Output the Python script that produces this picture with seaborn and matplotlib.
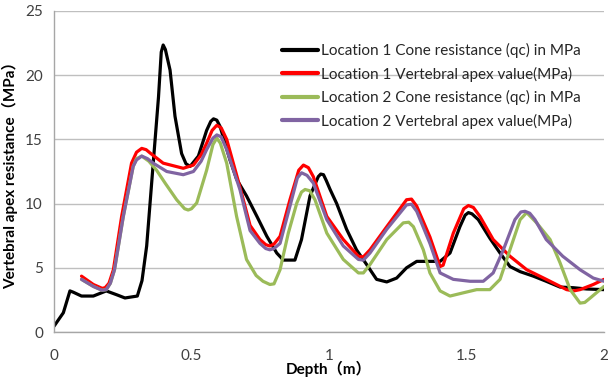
import numpy as np
import pandas as pd
import matplotlib
matplotlib.use("Agg")
import matplotlib.pyplot as plt
import seaborn as sns

# ---- data ----
d_black = [0.0, 0.034, 0.058, 0.07, 0.10, 0.143, 0.19, 0.228, 0.258, 0.303, 0.32, 0.337, 0.361, 0.38,
           0.39, 0.397, 0.405, 0.422, 0.44, 0.464, 0.48, 0.495, 0.525, 0.555, 0.57, 0.58, 0.592, 0.604,
           0.64, 0.664, 0.70, 0.738, 0.774, 0.81, 0.834, 0.876, 0.90, 0.931, 0.961, 0.97, 0.98,
           0.99, 1.004, 1.028, 1.064, 1.10, 1.137, 1.173, 1.21, 1.246, 1.282, 1.319, 1.367, 1.404,
           1.44, 1.476, 1.495, 1.507, 1.52, 1.543, 1.585, 1.622, 1.658, 1.695, 1.743, 1.79, 1.84,
           1.888, 1.937, 2.0]
v_black = [0.45, 1.5, 3.2, 3.1, 2.8, 2.8, 3.2, 2.9, 2.65, 2.8, 4.0, 6.7, 13.2, 18.3,
           21.8, 22.35, 22.0, 20.4, 16.8, 13.9, 13.1, 12.9, 13.7, 15.7, 16.4, 16.6, 16.5, 16.0,
           13.4, 11.9, 10.6, 9.0, 7.45, 6.15, 5.6, 5.6, 7.2, 10.6, 12.1, 12.3, 12.25,
           11.8, 11.1, 10.0, 8.0, 6.4, 5.25, 4.1, 3.9, 4.2, 5.0, 5.5, 5.5, 5.5,
           6.15, 8.2, 9.1, 9.3, 9.2, 8.75, 7.3, 6.15, 5.1, 4.7, 4.35, 3.95, 3.5,
           3.45, 3.35, 3.3]

d_red = [0.10, 0.143, 0.175, 0.186, 0.20, 0.216, 0.246, 0.282, 0.30, 0.319, 0.335, 0.349, 0.397, 0.47,
         0.507, 0.535, 0.555, 0.575, 0.592, 0.608, 0.628, 0.676, 0.713, 0.749, 0.77, 0.785, 0.80,
         0.822, 0.858, 0.89, 0.907, 0.925, 0.943, 0.992, 1.052, 1.107, 1.125, 1.149, 1.21, 1.282,
         1.30, 1.319, 1.367, 1.404, 1.415, 1.452, 1.49, 1.507, 1.525, 1.549, 1.597, 1.658, 1.719,
         1.79, 1.864, 1.89, 1.913, 1.961, 2.0]
v_red = [4.35, 3.7, 3.4, 3.45, 3.8, 4.85, 9.0, 13.15, 14.0, 14.3, 14.2, 13.95, 13.15, 12.75,
         13.0, 13.8, 14.7, 15.7, 16.1, 15.9, 15.0, 11.3, 8.3, 7.2, 6.8, 6.7, 6.85,
         7.45, 10.3, 12.6, 13.0, 12.8, 12.1, 9.0, 7.2, 5.9, 5.85, 6.4, 8.2, 10.3,
         10.35, 9.8, 7.4, 5.1, 5.2, 7.7, 9.6, 9.85, 9.7, 9.0, 7.2, 5.9, 4.85,
         4.1, 3.3, 3.2, 3.3, 3.7, 4.1]

d_green = [0.10, 0.143, 0.175, 0.19, 0.205, 0.22, 0.252, 0.288, 0.30, 0.319, 0.345, 0.373, 0.404, 0.446,
           0.475, 0.488, 0.50, 0.519, 0.555, 0.578, 0.592, 0.605, 0.628, 0.664, 0.70, 0.735, 0.76,
           0.785, 0.80, 0.822, 0.852, 0.883, 0.90, 0.913, 0.93, 0.949, 0.992, 1.052, 1.107, 1.125,
           1.149, 1.21, 1.27, 1.29, 1.307, 1.343, 1.367, 1.404, 1.44, 1.488, 1.537, 1.585,
           1.622, 1.658, 1.695, 1.719, 1.755, 1.804, 1.84, 1.877, 1.913, 1.93, 1.95, 2.0]
v_green = [4.1, 3.55, 3.25, 3.3, 3.8, 4.85, 9.0, 12.9, 13.5, 13.7, 13.3, 12.6, 11.6, 10.3,
           9.6, 9.5, 9.6, 10.05, 12.6, 14.6, 15.1, 14.7, 13.15, 9.0, 5.65, 4.4, 3.95,
           3.7, 3.75, 4.85, 7.7, 10.05, 10.9, 11.1, 11.0, 10.3, 7.7, 5.65, 4.6, 4.6,
           5.25, 7.2, 8.5, 8.55, 8.2, 6.4, 4.6, 3.2, 2.8, 3.05, 3.3, 3.3,
           4.1, 6.4, 8.75, 9.3, 8.5, 7.2, 5.4, 3.3, 2.25, 2.3, 2.65, 3.55]

d_purple = [0.10, 0.143, 0.175, 0.19, 0.205, 0.22, 0.252, 0.288, 0.30, 0.319, 0.34, 0.361, 0.41, 0.47,
            0.507, 0.535, 0.555, 0.578, 0.592, 0.608, 0.628, 0.676, 0.713, 0.749, 0.77, 0.785, 0.80,
            0.822, 0.858, 0.885, 0.90, 0.92, 0.943, 0.992, 1.052, 1.107, 1.125, 1.149, 1.21, 1.282,
            1.30, 1.319, 1.367, 1.404, 1.452, 1.513, 1.561, 1.597, 1.634, 1.676, 1.698, 1.713,
            1.73, 1.749, 1.79, 1.85, 1.913, 1.961, 2.0]
v_purple = [4.1, 3.55, 3.25, 3.3, 3.8, 4.85, 9.0, 12.9, 13.4, 13.7, 13.5, 13.15, 12.5, 12.25,
            12.5, 13.3, 14.2, 15.1, 15.35, 15.2, 14.2, 11.1, 7.9, 6.9, 6.5, 6.4, 6.5,
            6.9, 9.8, 12.0, 12.4, 12.2, 11.6, 8.75, 6.7, 5.65, 5.6, 6.15, 8.0, 9.9,
            9.95, 9.4, 6.9, 4.6, 4.1, 3.95, 3.95, 4.6, 6.4, 8.75, 9.35, 9.4,
            9.25, 8.75, 7.2, 5.9, 4.85, 4.2, 3.95]

series_names = ["Location 1 Cone resistance (qc) in MPa",
                "Location 1 Vertebral apex value(MPa)",
                "Location 2 Cone resistance (qc) in MPa",
                "Location 2 Vertebral apex value(MPa)"]
series_colors = ["#000000", "#FF0000", "#9BBB59", "#8064A2"]

x_ticks = [0, 0.5, 1, 1.5, 2]
x_tick_labels = ["0", "0.5", "1", "1.5", "2"]
y_ticks = [0, 5, 10, 15, 20, 25]

frames = []
for name, d, v in zip(series_names, [d_black, d_red, d_green, d_purple],
                      [v_black, v_red, v_green, v_purple]):
    frames.append(pd.DataFrame({"Depth": d, "Value": v, "Series": name}))
df = pd.concat(frames, ignore_index=True)

sns.set_style("white")
plt.rcParams["font.family"] = ["Lato", "Noto Sans CJK SC", "DejaVu Sans"]

fig = plt.figure(figsize=(6.08, 3.83), dpi=100)
ax = fig.add_axes([54/608, 1-332/383, 550/608, 321/383])

sns.lineplot(data=df, x="Depth", y="Value", hue="Series", hue_order=series_names,
             palette=series_colors, sort=False, estimator=None, linewidth=2.3,
             ax=ax, legend=True)
for ln in ax.lines:
    ln.set_solid_joinstyle("round")
    ln.set_solid_capstyle("round")

ax.set_xlim(0, 2)
ax.set_ylim(0, 25)
ax.set_xticks(x_ticks)
ax.set_xticklabels(x_tick_labels)
ax.set_yticks(y_ticks)
ax.yaxis.grid(True, color="#BFBFBF", linewidth=1)
ax.xaxis.grid(False)
for s in ["top", "right"]:
    ax.spines[s].set_visible(False)
for s in ["left", "bottom"]:
    ax.spines[s].set_color("#A6A6A6")
    ax.spines[s].set_linewidth(1)
ax.tick_params(axis="both", direction="out", length=4, width=1, color="#A6A6A6",
               labelsize=11, labelcolor="#404040", pad=4)
ax.tick_params(axis="x", pad=8)

ax.set_xlabel("Depth（m）", fontsize=11, fontweight="bold", color="#000000", labelpad=-1)
ax.set_ylabel("Vertebral apex resistance（MPa）", fontsize=11, fontweight="bold",
              color="#000000", labelpad=5)

leg = ax.legend(loc="upper left", bbox_to_anchor=(0.414, 0.9), frameon=False,
                fontsize=11, handlelength=2.4, handletextpad=0.15, labelspacing=0.55,
                borderpad=0, borderaxespad=0)
for h in leg.get_lines():
    h.set_linewidth(3)

fig.savefig("out.png", dpi=100)
